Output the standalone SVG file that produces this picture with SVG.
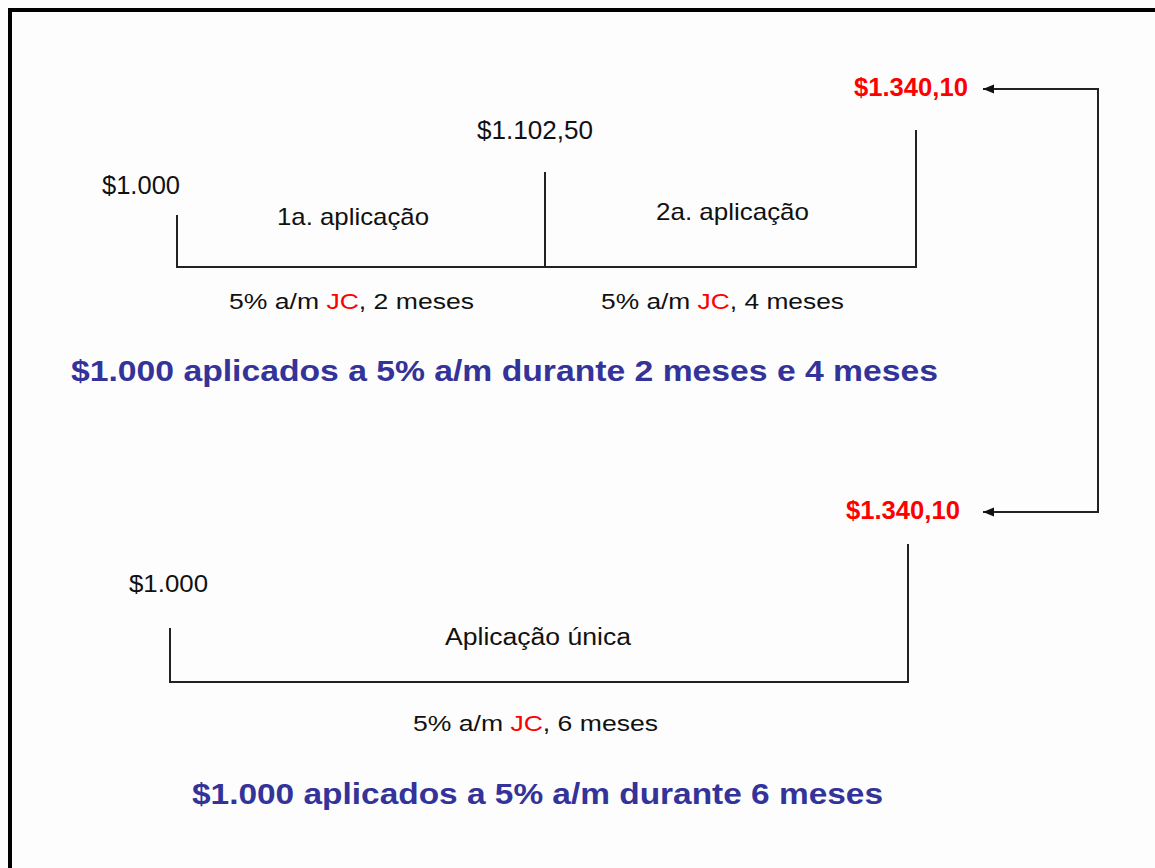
<svg xmlns="http://www.w3.org/2000/svg" width="1155" height="868" viewBox="0 0 1155 868">
<style>
.t{font-family:"Liberation Sans",Arial,sans-serif;fill:#111}
.b{font-weight:bold}
.red{fill:#ff0000}
.ttl{font-family:"Liberation Sans",Arial,sans-serif;font-weight:bold;fill:#333399}
.ln{fill:none;stroke:#222;stroke-width:2}
</style>
<defs>
<marker id="ah" markerUnits="userSpaceOnUse" markerWidth="12" markerHeight="10" refX="11" refY="5" orient="auto-start-reverse">
<path d="M0,0.5 L11,5 L0,9.5 z" fill="#111"/>
</marker>
</defs>
<rect width="1155" height="868" fill="#fdfdfd"/>
<path d="M10,868 V10 H1155" fill="none" stroke="#000" stroke-width="4"/>

<g id="bracket1">
<path class="ln" d="M177,215 V267 H916 V130"/>
<path class="ln" d="M545,172 V267"/>
</g>
<g id="start1"><text class="t" x="102" y="194" font-size="25" textLength="78" lengthAdjust="spacingAndGlyphs">$1.000</text></g>
<g id="mid1"><text class="t" x="477" y="139" font-size="25" textLength="116" lengthAdjust="spacingAndGlyphs">$1.102,50</text></g>
<g id="end1"><text class="t b red" x="854" y="96" font-size="26" textLength="114" lengthAdjust="spacingAndGlyphs">$1.340,10</text></g>
<g id="app1"><text class="t" x="277" y="225" font-size="24" textLength="152" lengthAdjust="spacingAndGlyphs">1a. aplicação</text></g>
<g id="app2"><text class="t" x="656" y="220" font-size="24" textLength="153" lengthAdjust="spacingAndGlyphs">2a. aplicação</text></g>
<g id="rate1"><text class="t" x="229" y="309" font-size="22" textLength="245" lengthAdjust="spacingAndGlyphs">5% a/m <tspan class="red">JC</tspan>, 2 meses</text></g>
<g id="rate2"><text class="t" x="601" y="309" font-size="22" textLength="243" lengthAdjust="spacingAndGlyphs">5% a/m <tspan class="red">JC</tspan>, 4 meses</text></g>
<g id="title1"><text class="ttl" x="71" y="381" font-size="30" textLength="867" lengthAdjust="spacingAndGlyphs">$1.000 aplicados a 5% a/m durante 2 meses e 4 meses</text></g>

<g id="bracket2">
<path class="ln" d="M170,628 V682 H908 V544"/>
</g>
<g id="start2"><text class="t" x="129" y="592" font-size="24" textLength="79" lengthAdjust="spacingAndGlyphs">$1.000</text></g>
<g id="end2"><text class="t b red" x="846" y="519" font-size="26" textLength="114" lengthAdjust="spacingAndGlyphs">$1.340,10</text></g>
<g id="appu"><text class="t" x="445" y="645" font-size="23" textLength="186" lengthAdjust="spacingAndGlyphs">Aplicação única</text></g>
<g id="rate3"><text class="t" x="413" y="731" font-size="22" textLength="245" lengthAdjust="spacingAndGlyphs">5% a/m <tspan class="red">JC</tspan>, 6 meses</text></g>
<g id="title2"><text class="ttl" x="192" y="804" font-size="30" textLength="691" lengthAdjust="spacingAndGlyphs">$1.000 aplicados a 5% a/m durante 6 meses</text></g>

<g id="connectors">
<path class="ln" d="M983,89 H1098 V512 H983" marker-start="url(#ah)" marker-end="url(#ah)"/>
</g>
</svg>
